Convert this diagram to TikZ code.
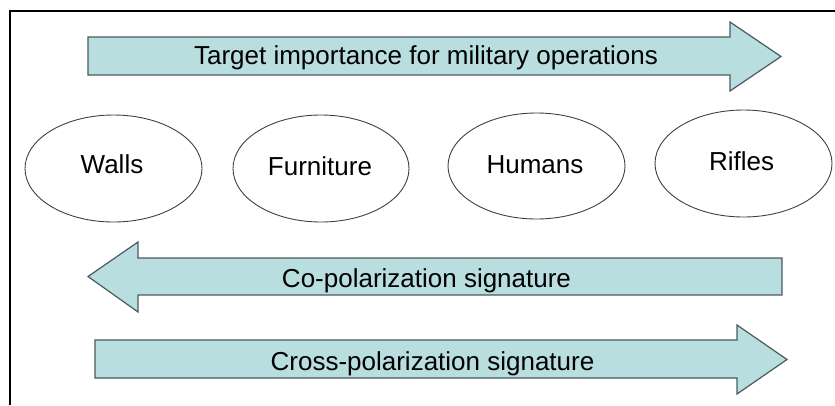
\documentclass[tikz,border=0pt]{standalone}
\usepackage{fontspec}
\setmainfont{Liberation Sans}
\usetikzlibrary{shapes.geometric}
\definecolor{arrowfill}{HTML}{B9DEE0}
\definecolor{arrowline}{HTML}{4B5A5C}

\begin{document}
\begin{tikzpicture}[x=1pt,y=-1pt,
        bararrow/.style={draw=arrowline, fill=arrowfill, line width=1.2pt, line join=miter},
        target/.style={ellipse, draw=black!75, line width=0.9pt, minimum width=177pt, minimum height=107pt, inner sep=0pt},
        caption/.style={font=\fontsize{26}{30}\selectfont, inner sep=0pt, anchor=base}]
            \useasboundingbox (0,0) rectangle (835,405);

            % frame:
            \draw [line width=2pt] (10,405) -- (10,11) -- (835,11);

            % block arrows
            \draw [bararrow] (88,37) -- (730,37) -- (730,22) -- (781,56.5) -- (730,91) -- (730,75) -- (88,75) -- cycle;
            \draw [bararrow] (782,258) -- (138,258) -- (138,242) -- (88,276.5) -- (138,312) -- (138,295) -- (782,295) -- cycle;
            \draw [bararrow] (95,340) -- (737,340) -- (737,325) -- (787,359.5) -- (737,394) -- (737,378) -- (95,378) -- cycle;

            \node[caption] (importance) at (426,64) {Target importance for military operations};
            \node[caption] (copol) at (426.5,287) {Co-polarization signature};
            \node[caption] (crosspol) at (432.5,370) {Cross-polarization signature};

            % targets
            \node[target] (walls) at (113.5,168.5) {};
            \node[target, minimum width=176pt] (furniture) at (321,168.5) {};
            \node[target, minimum height=106pt] (humans) at (536.5,166) {};
            \node[target] (rifles) at (743.5,163.5) {};

            \node[caption] (wallstext) at (112,173) {Walls};
            \node[caption] (furnituretext) at (320,175) {Furniture};
            \node[caption] (humanstext) at (535,173) {Humans};
            \node[caption] (riflestext) at (741.5,170) {Rifles};
        \end{tikzpicture}
\end{document}
